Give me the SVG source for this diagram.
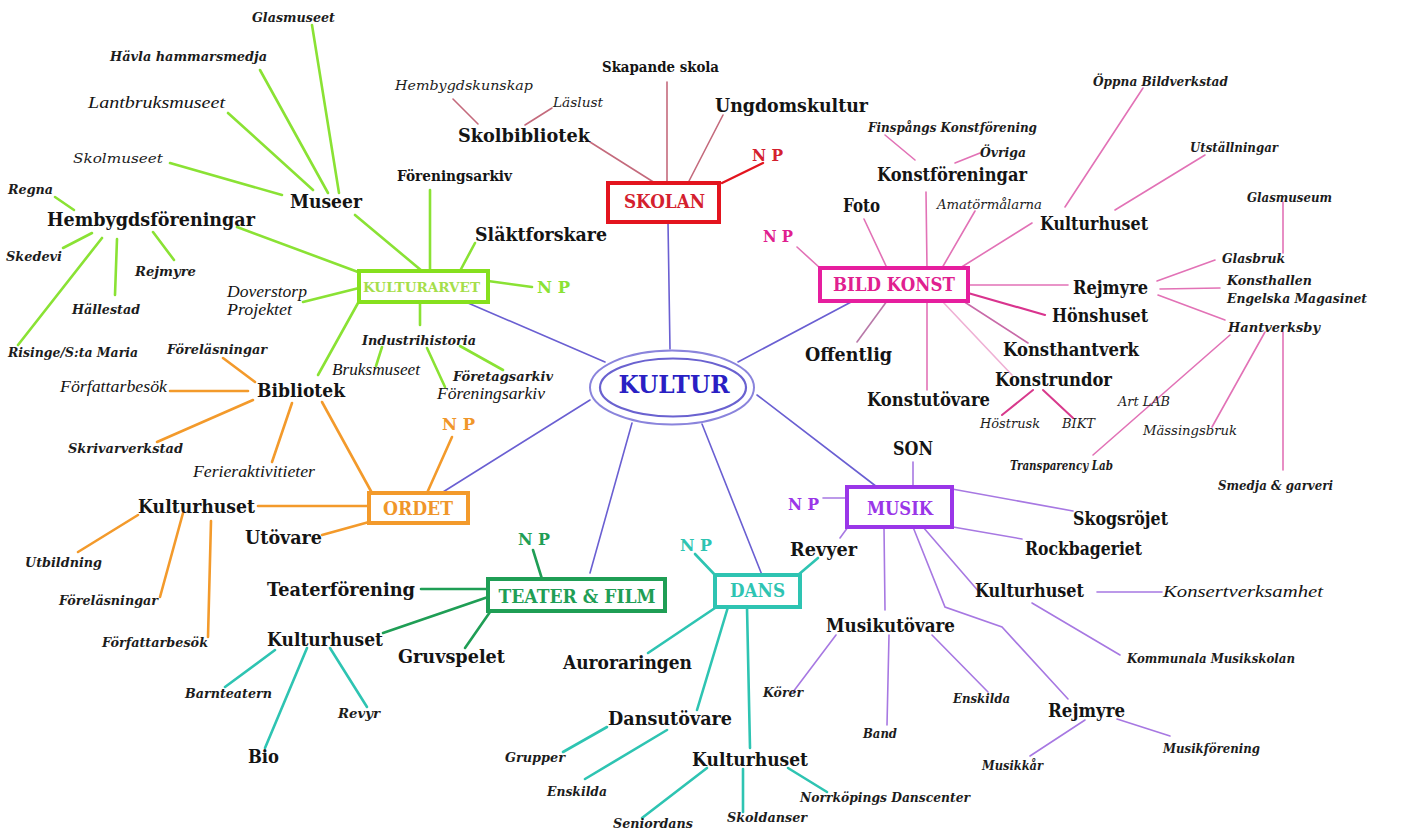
<svg xmlns="http://www.w3.org/2000/svg" width="1423" height="832" viewBox="0 0 1423 832">
<style>
.b{font-family:"DejaVu Serif",serif;font-weight:bold;font-size:18px;fill:#141414}
.bs{font-family:"DejaVu Serif",serif;font-weight:bold;font-size:14px;fill:#141414}
.bi{font-family:"DejaVu Serif",serif;font-weight:bold;font-style:italic;font-size:13.5px;fill:#1c1c1c}
.di{font-family:"DejaVu Serif",serif;font-style:italic;font-size:13.5px;fill:#1c1c1c}
.ti{font-family:"Liberation Serif",serif;font-style:italic;font-size:17px;fill:#141414}
.bx{font-family:"DejaVu Serif",serif;font-weight:bold;text-anchor:middle}
.np{font-family:"DejaVu Serif",serif;font-weight:bold;font-size:17px}
line,polyline{fill:none;stroke-linecap:round}
.g{stroke:#8ae234;stroke-width:2.6}
.o{stroke:#f39a2b;stroke-width:2.6}
.dg{stroke:#1f9e55;stroke-width:2.6}
.t{stroke:#2ec4b2;stroke-width:2.6}
.bl{stroke:#6a5fd2;stroke-width:1.6}
.p{stroke:#a778e2;stroke-width:1.6}
.m{stroke:#e272b6;stroke-width:1.6}
.r{stroke:#c46a7c;stroke-width:1.6}
.box{fill:#fff;stroke-width:4}
</style>
<rect width="1423" height="832" fill="#fff"/>
<g id="connectors">
<line class="g" x1="312" y1="25" x2="339" y2="193"/>
<line class="g" x1="260" y1="70" x2="328" y2="193"/>
<line class="g" x1="228" y1="113" x2="313" y2="190"/>
<line class="g" x1="170" y1="163" x2="282" y2="195"/>
<line class="g" x1="355" y1="215" x2="422" y2="271"/>
<line class="g" x1="237" y1="227" x2="358" y2="272"/>
<line class="g" x1="430" y1="190" x2="430" y2="271"/>
<line class="g" x1="475" y1="243" x2="460" y2="271"/>
<line class="g" x1="55" y1="197" x2="74" y2="210"/>
<line class="g" x1="92" y1="233" x2="63" y2="248"/>
<line class="g" x1="102" y1="238" x2="18" y2="345"/>
<line class="g" x1="117" y1="239" x2="115" y2="295"/>
<line class="g" x1="153" y1="232" x2="174" y2="260"/>
<line class="g" x1="488" y1="281" x2="532" y2="287"/>
<line class="g" x1="303" y1="302" x2="359" y2="288"/>
<line class="g" x1="358" y1="303" x2="318" y2="375"/>
<line class="g" x1="420" y1="303" x2="420" y2="325"/>
<line class="g" x1="382" y1="347" x2="376" y2="366"/>
<line class="g" x1="427" y1="348" x2="445" y2="387"/>
<line class="g" x1="460" y1="346" x2="503" y2="370"/>
<line class="o" x1="223" y1="358" x2="255" y2="382"/>
<line class="o" x1="170" y1="391" x2="248" y2="391"/>
<line class="o" x1="157" y1="442" x2="253" y2="400"/>
<line class="o" x1="272" y1="462" x2="292" y2="403"/>
<line class="o" x1="322" y1="402" x2="372" y2="493"/>
<line class="o" x1="452" y1="437" x2="427" y2="493"/>
<line class="o" x1="258" y1="506" x2="369" y2="506"/>
<line class="o" x1="322" y1="535" x2="369" y2="522"/>
<line class="o" x1="138" y1="515" x2="78" y2="552"/>
<line class="o" x1="183" y1="513" x2="160" y2="597"/>
<line class="o" x1="211" y1="521" x2="208" y2="637"/>
<line class="dg" x1="421" y1="589" x2="488" y2="589"/>
<line class="dg" x1="383" y1="633" x2="488" y2="597"/>
<line class="dg" x1="465" y1="648" x2="490" y2="612"/>
<line class="dg" x1="533" y1="550" x2="542" y2="579"/>
<line class="t" x1="225" y1="687" x2="275" y2="650"/>
<line class="t" x1="265" y1="748" x2="307" y2="648"/>
<line class="t" x1="367" y1="707" x2="330" y2="648"/>
<line class="t" x1="695" y1="554" x2="715" y2="575"/>
<line class="t" x1="818" y1="558" x2="798" y2="575"/>
<line class="t" x1="648" y1="653" x2="715" y2="608"/>
<line class="t" x1="697" y1="710" x2="728" y2="607"/>
<line class="t" x1="747" y1="607" x2="750" y2="748"/>
<line class="t" x1="563" y1="752" x2="607" y2="727"/>
<line class="t" x1="585" y1="779" x2="667" y2="730"/>
<line class="t" x1="642" y1="818" x2="707" y2="768"/>
<line class="t" x1="743" y1="812" x2="743" y2="769"/>
<line class="t" x1="827" y1="792" x2="788" y2="768"/>
<line class="bl" x1="668" y1="222" x2="670" y2="349"/>
<line class="bl" x1="468" y1="303" x2="605" y2="362"/>
<line class="bl" x1="435" y1="497" x2="590" y2="400"/>
<line class="bl" x1="590" y1="573" x2="632" y2="423"/>
<line class="bl" x1="762" y1="575" x2="702" y2="424"/>
<line class="bl" x1="877" y1="487" x2="757" y2="395"/>
<line class="bl" x1="853" y1="301" x2="738" y2="362"/>
<line class="p" x1="913" y1="462" x2="913" y2="487"/>
<line class="p" x1="823" y1="498" x2="847" y2="498"/>
<line class="p" x1="840" y1="538" x2="848" y2="527"/>
<line class="p" x1="952" y1="489" x2="1073" y2="511"/>
<line class="p" x1="953" y1="527" x2="1022" y2="539"/>
<line class="p" x1="923" y1="527" x2="980" y2="593"/>
<line class="p" x1="1097" y1="592" x2="1162" y2="592"/>
<line class="p" x1="1032" y1="603" x2="1120" y2="655"/>
<line class="p" x1="884" y1="527" x2="885" y2="610"/>
<polyline class="p" points="913,527 945,607 1002,627 1068,699"/>
<line class="p" x1="1030" y1="756" x2="1085" y2="720"/>
<line class="p" x1="1117" y1="719" x2="1170" y2="736"/>
<line class="p" x1="889" y1="635" x2="887" y2="725"/>
<line class="p" x1="932" y1="635" x2="988" y2="692"/>
<line class="p" x1="836" y1="635" x2="793" y2="692"/>
<line class="m" x1="797" y1="247" x2="820" y2="268"/>
<line class="m" x1="864" y1="219" x2="887" y2="268"/>
<line class="m" x1="926" y1="192" x2="927" y2="268"/>
<line class="m" x1="885" y1="135" x2="915" y2="160"/>
<line class="m" x1="955" y1="163" x2="980" y2="153"/>
<line class="m" x1="975" y1="211" x2="942" y2="268"/>
<line class="m" x1="1032" y1="223" x2="960" y2="268"/>
<line class="m" x1="1143" y1="88" x2="1065" y2="207"/>
<line class="m" x1="1205" y1="155" x2="1115" y2="210"/>
<line class="m" x1="968" y1="285" x2="1068" y2="285"/>
<line class="m" x1="1157" y1="281" x2="1215" y2="260"/>
<line class="m" x1="1283" y1="202" x2="1283" y2="253"/>
<line class="m" x1="1160" y1="289" x2="1220" y2="288"/>
<line class="m" x1="1158" y1="295" x2="1225" y2="320"/>
<line class="m" x1="1230" y1="335" x2="1093" y2="455"/>
<line class="m" x1="1265" y1="332" x2="1212" y2="427"/>
<line class="m" x1="1283" y1="332" x2="1283" y2="470"/>
<line class="m" x1="968" y1="293" x2="1045" y2="315" style="stroke:#d9348e;stroke-width:2.2"/>
<line class="m" x1="963" y1="301" x2="1028" y2="343" style="stroke:#c86aa8"/>
<line class="m" x1="942" y1="301" x2="1012" y2="375" style="stroke:#efb0d4"/>
<line class="m" x1="1033" y1="390" x2="1002" y2="415" style="stroke:#d83a8c;stroke-width:2"/>
<line class="m" x1="1043" y1="390" x2="1073" y2="418" style="stroke:#d83a8c;stroke-width:2"/>
<line class="m" x1="927" y1="301" x2="927" y2="390"/>
<line class="m" x1="887" y1="301" x2="857" y2="342" style="stroke:#b878a8"/>
<line class="r" x1="667" y1="82" x2="667" y2="183"/>
<line class="r" x1="723" y1="115" x2="688" y2="183"/>
<line class="r" x1="763" y1="163" x2="722" y2="183" style="stroke:#e3141e;stroke-width:2.4"/>
<line class="r" x1="590" y1="142" x2="655" y2="183"/>
<line class="r" x1="453" y1="99" x2="478" y2="124"/>
<line class="r" x1="552" y1="108" x2="525" y2="125"/>
</g>

<g id="kultur">
<ellipse cx="672" cy="387.5" rx="82" ry="37" fill="#fff" stroke="#8a84dc" stroke-width="2"/>
<ellipse cx="673" cy="387.5" rx="73" ry="29" fill="none" stroke="#6a62d0" stroke-width="2.2"/>
<text class="bx" x="674" y="393" font-size="25" fill="#2a1fc4" textLength="111" lengthAdjust="spacingAndGlyphs">KULTUR</text>
</g>

<g id="skolan">
<rect class="box" x="608" y="183" width="111" height="39" stroke="#e3141e"/>
<text class="bx" x="664.5" y="208" font-size="18" fill="#d4202e" textLength="81" lengthAdjust="spacingAndGlyphs">SKOLAN</text>
</g>
<g id="kulturarvet">
<rect class="box" x="359" y="271" width="129" height="31" stroke="#86e01e"/>
<text class="bx" x="421.5" y="292" font-size="13.5" fill="#a5de4a" textLength="117" lengthAdjust="spacingAndGlyphs">KULTURARVET</text>
</g>
<g id="bildkonst">
<rect class="box" x="820" y="268" width="148" height="33" stroke="#e61e9e"/>
<text class="bx" x="894" y="291" font-size="18" fill="#e0208f" textLength="122" lengthAdjust="spacingAndGlyphs">BILD KONST</text>
</g>
<g id="ordet">
<rect class="box" x="369" y="493" width="99" height="30" stroke="#f39a2b"/>
<text class="bx" x="418" y="515" font-size="18" fill="#f0962a" textLength="70" lengthAdjust="spacingAndGlyphs">ORDET</text>
</g>
<g id="teaterfilm">
<rect class="box" x="488" y="579" width="177" height="32" stroke="#1f9e55"/>
<text class="bx" x="577" y="603" font-size="19" fill="#1f9e55" textLength="157" lengthAdjust="spacingAndGlyphs">TEATER &amp; FILM</text>
</g>
<g id="dans">
<rect class="box" x="715" y="575" width="85" height="32" stroke="#2ec4b2"/>
<text class="bx" x="757.5" y="597" font-size="19" fill="#2ec4b2" textLength="55" lengthAdjust="spacingAndGlyphs">DANS</text>
</g>
<g id="musik">
<rect class="box" x="847" y="487" width="105" height="40" stroke="#9a36e8"/>
<text class="bx" x="900" y="515" font-size="18" fill="#9a36e8" textLength="66" lengthAdjust="spacingAndGlyphs">MUSIK</text>
</g>

<g id="np-skolan"><text class="np" x="752" y="161" fill="#d4202e" textLength="31" lengthAdjust="spacingAndGlyphs">N P</text></g>
<g id="np-kulturarvet"><text class="np" x="537" y="293" fill="#8ae234" textLength="33" lengthAdjust="spacingAndGlyphs">N P</text></g>
<g id="np-bildkonst"><text class="np" x="763" y="242" fill="#e0208f" textLength="30" lengthAdjust="spacingAndGlyphs">N P</text></g>
<g id="np-ordet"><text class="np" x="442" y="430" fill="#f0962a" textLength="33" lengthAdjust="spacingAndGlyphs">N P</text></g>
<g id="np-teater"><text class="np" x="518" y="545" fill="#1f9e55" textLength="32" lengthAdjust="spacingAndGlyphs">N P</text></g>
<g id="np-dans"><text class="np" x="680" y="551" fill="#2ec4b2" textLength="32" lengthAdjust="spacingAndGlyphs">N P</text></g>
<g id="np-musik"><text class="np" x="788" y="510" fill="#9a36e8" textLength="31" lengthAdjust="spacingAndGlyphs">N P</text></g>

<g id="glasmuseet"><text class="bi" x="252" y="22" textLength="83" lengthAdjust="spacingAndGlyphs">Glasmuseet</text></g>
<g id="havla"><text class="bi" x="110" y="61" textLength="157" lengthAdjust="spacingAndGlyphs">Hävla hammarsmedja</text></g>
<g id="lantbruksmuseet"><text class="ti" x="88" y="108" textLength="137" lengthAdjust="spacingAndGlyphs">Lantbruksmuseet</text></g>
<g id="skolmuseet"><text class="di" x="73" y="163" font-size="14.5" textLength="90" lengthAdjust="spacingAndGlyphs">Skolmuseet</text></g>
<g id="museer"><text class="b" x="290" y="208" textLength="72" lengthAdjust="spacingAndGlyphs">Museer</text></g>
<g id="regna"><text class="bi" x="8" y="194" textLength="45" lengthAdjust="spacingAndGlyphs">Regna</text></g>
<g id="hembygdsforeningar"><text class="b" x="47" y="226" textLength="208" lengthAdjust="spacingAndGlyphs">Hembygdsföreningar</text></g>
<g id="skedevi"><text class="bi" x="6" y="261" textLength="56" lengthAdjust="spacingAndGlyphs">Skedevi</text></g>
<g id="rejmyre-hf"><text class="bi" x="135" y="276" textLength="61" lengthAdjust="spacingAndGlyphs">Rejmyre</text></g>
<g id="hallestad"><text class="bi" x="72" y="314" textLength="68" lengthAdjust="spacingAndGlyphs">Hällestad</text></g>
<g id="risinge"><text class="bi" x="8" y="357" textLength="130" lengthAdjust="spacingAndGlyphs">Risinge/S:ta Maria</text></g>
<g id="foreningsarkiv-top"><text class="bs" x="397" y="181" textLength="115" lengthAdjust="spacingAndGlyphs">Föreningsarkiv</text></g>
<g id="slaktforskare"><text class="b" x="475" y="241" textLength="132" lengthAdjust="spacingAndGlyphs">Släktforskare</text></g>
<g id="doverstorp"><text class="ti" x="227" y="297" font-size="14.5" textLength="80" lengthAdjust="spacingAndGlyphs">Doverstorp</text><text class="ti" x="227" y="315" font-size="14.5" textLength="65" lengthAdjust="spacingAndGlyphs">Projektet</text></g>
<g id="industrihistoria"><text class="bi" x="362" y="345" textLength="114" lengthAdjust="spacingAndGlyphs">Industrihistoria</text></g>
<g id="bruksmuseet"><text class="ti" x="332" y="375" textLength="88" lengthAdjust="spacingAndGlyphs">Bruksmuseet</text></g>
<g id="foretagsarkiv"><text class="bi" x="453" y="381" textLength="100" lengthAdjust="spacingAndGlyphs">Företagsarkiv</text></g>
<g id="foreningsarkiv-ind"><text class="ti" x="437" y="399" textLength="108" lengthAdjust="spacingAndGlyphs">Föreningsarkiv</text></g>

<g id="forelasningar-bib"><text class="bi" x="167" y="354" textLength="100" lengthAdjust="spacingAndGlyphs">Föreläsningar</text></g>
<g id="forfattarbesok-bib"><text class="ti" x="60" y="392" textLength="107" lengthAdjust="spacingAndGlyphs">Författarbesök</text></g>
<g id="bibliotek"><text class="b" x="257" y="397" font-size="19" textLength="88" lengthAdjust="spacingAndGlyphs">Bibliotek</text></g>
<g id="skrivarverkstad"><text class="bi" x="68" y="453" textLength="115" lengthAdjust="spacingAndGlyphs">Skrivarverkstad</text></g>
<g id="ferieaktiviteter"><text class="ti" x="193" y="477" textLength="122" lengthAdjust="spacingAndGlyphs">Ferieraktivitieter</text></g>
<g id="kulturhuset-ordet"><text class="b" x="138" y="513" textLength="117" lengthAdjust="spacingAndGlyphs">Kulturhuset</text></g>
<g id="utovare"><text class="b" x="245" y="544" textLength="77" lengthAdjust="spacingAndGlyphs">Utövare</text></g>
<g id="utbildning"><text class="bi" x="25" y="567" textLength="77" lengthAdjust="spacingAndGlyphs">Utbildning</text></g>
<g id="forelasningar-kh"><text class="bi" x="59" y="605" textLength="99" lengthAdjust="spacingAndGlyphs">Föreläsningar</text></g>
<g id="forfattarbesok-kh"><text class="bi" x="102" y="647" textLength="106" lengthAdjust="spacingAndGlyphs">Författarbesök</text></g>

<g id="teaterforening"><text class="b" x="267" y="596" textLength="148" lengthAdjust="spacingAndGlyphs">Teaterförening</text></g>
<g id="kulturhuset-teater"><text class="b" x="267" y="646" textLength="116" lengthAdjust="spacingAndGlyphs">Kulturhuset</text></g>
<g id="gruvspelet"><text class="b" x="398" y="663" textLength="107" lengthAdjust="spacingAndGlyphs">Gruvspelet</text></g>
<g id="barnteatern"><text class="bi" x="185" y="698" textLength="87" lengthAdjust="spacingAndGlyphs">Barnteatern</text></g>
<g id="revyr"><text class="bi" x="338" y="718" textLength="42" lengthAdjust="spacingAndGlyphs">Revyr</text></g>
<g id="bio"><text class="b" x="248" y="763" textLength="31" lengthAdjust="spacingAndGlyphs">Bio</text></g>

<g id="revyer"><text class="b" x="790" y="556" textLength="67" lengthAdjust="spacingAndGlyphs">Revyer</text></g>
<g id="auroraringen"><text class="b" x="563" y="669" textLength="129" lengthAdjust="spacingAndGlyphs">Auroraringen</text></g>
<g id="dansutovare"><text class="b" x="608" y="725" textLength="124" lengthAdjust="spacingAndGlyphs">Dansutövare</text></g>
<g id="kulturhuset-dans"><text class="b" x="692" y="766" textLength="116" lengthAdjust="spacingAndGlyphs">Kulturhuset</text></g>
<g id="grupper"><text class="bi" x="505" y="762" textLength="60" lengthAdjust="spacingAndGlyphs">Grupper</text></g>
<g id="enskilda-dans"><text class="bi" x="547" y="796" textLength="60" lengthAdjust="spacingAndGlyphs">Enskilda</text></g>
<g id="seniordans"><text class="bi" x="613" y="828" textLength="80" lengthAdjust="spacingAndGlyphs">Seniordans</text></g>
<g id="skoldanser"><text class="bi" x="727" y="822" textLength="80" lengthAdjust="spacingAndGlyphs">Skoldanser</text></g>
<g id="norrkopings"><text class="bi" x="800" y="802" textLength="170" lengthAdjust="spacingAndGlyphs">Norrköpings Danscenter</text></g>

<g id="son"><text class="b" x="893" y="455" textLength="40" lengthAdjust="spacingAndGlyphs">SON</text></g>
<g id="skogsrojet"><text class="b" x="1073" y="525" textLength="95" lengthAdjust="spacingAndGlyphs">Skogsröjet</text></g>
<g id="rockbageriet"><text class="b" x="1025" y="555" textLength="117" lengthAdjust="spacingAndGlyphs">Rockbageriet</text></g>
<g id="kulturhuset-musik"><text class="b" x="975" y="597" textLength="109" lengthAdjust="spacingAndGlyphs">Kulturhuset</text></g>
<g id="konsertverksamhet"><text class="ti" x="1163" y="597" font-size="19.5" textLength="160" lengthAdjust="spacingAndGlyphs">Konsertverksamhet</text></g>
<g id="kommunala"><text class="bi" x="1127" y="663" textLength="168" lengthAdjust="spacingAndGlyphs">Kommunala Musikskolan</text></g>
<g id="musikutovare"><text class="b" x="826" y="632" textLength="129" lengthAdjust="spacingAndGlyphs">Musikutövare</text></g>
<g id="korer"><text class="bi" x="763" y="697" textLength="40" lengthAdjust="spacingAndGlyphs">Körer</text></g>
<g id="band"><text class="bi" x="863" y="738" textLength="34" lengthAdjust="spacingAndGlyphs">Band</text></g>
<g id="enskilda-musik"><text class="bi" x="953" y="703" textLength="57" lengthAdjust="spacingAndGlyphs">Enskilda</text></g>
<g id="rejmyre-musik"><text class="b" x="1048" y="717" textLength="77" lengthAdjust="spacingAndGlyphs">Rejmyre</text></g>
<g id="musikkar"><text class="bi" x="982" y="770" textLength="61" lengthAdjust="spacingAndGlyphs">Musikkår</text></g>
<g id="musikforening"><text class="bi" x="1163" y="753" textLength="97" lengthAdjust="spacingAndGlyphs">Musikförening</text></g>

<g id="foto"><text class="b" x="843" y="212" font-size="15.5" textLength="37" lengthAdjust="spacingAndGlyphs">Foto</text></g>
<g id="konstforeningar"><text class="b" x="877" y="181" textLength="150" lengthAdjust="spacingAndGlyphs">Konstföreningar</text></g>
<g id="finspangs"><text class="bi" x="868" y="132" textLength="169" lengthAdjust="spacingAndGlyphs">Finspångs Konstförening</text></g>
<g id="ovriga"><text class="bi" x="980" y="157" textLength="46" lengthAdjust="spacingAndGlyphs">Övriga</text></g>
<g id="amatormalarna"><text class="di" x="937" y="209" textLength="105" lengthAdjust="spacingAndGlyphs">Amatörmålarna</text></g>
<g id="kulturhuset-bild"><text class="b" x="1040" y="230" textLength="108" lengthAdjust="spacingAndGlyphs">Kulturhuset</text></g>
<g id="oppna"><text class="bi" x="1093" y="86" textLength="135" lengthAdjust="spacingAndGlyphs">Öppna Bildverkstad</text></g>
<g id="utstallningar"><text class="bi" x="1190" y="152" textLength="88" lengthAdjust="spacingAndGlyphs">Utställningar</text></g>
<g id="glasmuseum"><text class="bi" x="1247" y="202" textLength="85" lengthAdjust="spacingAndGlyphs">Glasmuseum</text></g>
<g id="glasbruk"><text class="bi" x="1222" y="263" textLength="63" lengthAdjust="spacingAndGlyphs">Glasbruk</text></g>
<g id="rejmyre-bild"><text class="b" x="1073" y="294" textLength="75" lengthAdjust="spacingAndGlyphs">Rejmyre</text></g>
<g id="konsthallen"><text class="bi" x="1227" y="285" textLength="85" lengthAdjust="spacingAndGlyphs">Konsthallen</text><text class="bi" x="1227" y="303" textLength="140" lengthAdjust="spacingAndGlyphs">Engelska Magasinet</text></g>
<g id="hantverksby"><text class="bi" x="1228" y="332" textLength="92" lengthAdjust="spacingAndGlyphs">Hantverksby</text></g>
<g id="artlab"><text class="di" x="1118" y="406" textLength="52" lengthAdjust="spacingAndGlyphs">Art LAB</text></g>
<g id="massingsbruk"><text class="di" x="1143" y="435" textLength="94" lengthAdjust="spacingAndGlyphs">Mässingsbruk</text></g>
<g id="transparency"><text class="bi" x="1010" y="470" font-size="12" textLength="103" lengthAdjust="spacingAndGlyphs">Transparency Lab</text></g>
<g id="smedja"><text class="bi" x="1218" y="490" textLength="115" lengthAdjust="spacingAndGlyphs">Smedja &amp; garveri</text></g>
<g id="honshuset"><text class="b" x="1052" y="322" textLength="96" lengthAdjust="spacingAndGlyphs">Hönshuset</text></g>
<g id="konsthantverk"><text class="b" x="1003" y="356" textLength="136" lengthAdjust="spacingAndGlyphs">Konsthantverk</text></g>
<g id="konstrundor"><text class="b" x="995" y="386" textLength="117" lengthAdjust="spacingAndGlyphs">Konstrundor</text></g>
<g id="hostrusk"><text class="di" x="980" y="428" textLength="60" lengthAdjust="spacingAndGlyphs">Höstrusk</text></g>
<g id="bikt"><text class="di" x="1062" y="428" textLength="33" lengthAdjust="spacingAndGlyphs">BIKT</text></g>
<g id="konstutovare"><text class="b" x="867" y="406" textLength="123" lengthAdjust="spacingAndGlyphs">Konstutövare</text></g>
<g id="offentlig"><text class="b" x="805" y="361" textLength="87" lengthAdjust="spacingAndGlyphs">Offentlig</text></g>

<g id="skapande"><text class="bs" x="602" y="72" textLength="117" lengthAdjust="spacingAndGlyphs">Skapande skola</text></g>
<g id="ungdomskultur"><text class="b" x="715" y="112" textLength="153" lengthAdjust="spacingAndGlyphs">Ungdomskultur</text></g>
<g id="skolbibliotek"><text class="b" x="458" y="142" textLength="132" lengthAdjust="spacingAndGlyphs">Skolbibliotek</text></g>
<g id="hembygdskunskap"><text class="di" x="395" y="90" textLength="138" lengthAdjust="spacingAndGlyphs">Hembygdskunskap</text></g>
<g id="laslust"><text class="di" x="553" y="107" textLength="50" lengthAdjust="spacingAndGlyphs">Läslust</text></g>
</svg>
